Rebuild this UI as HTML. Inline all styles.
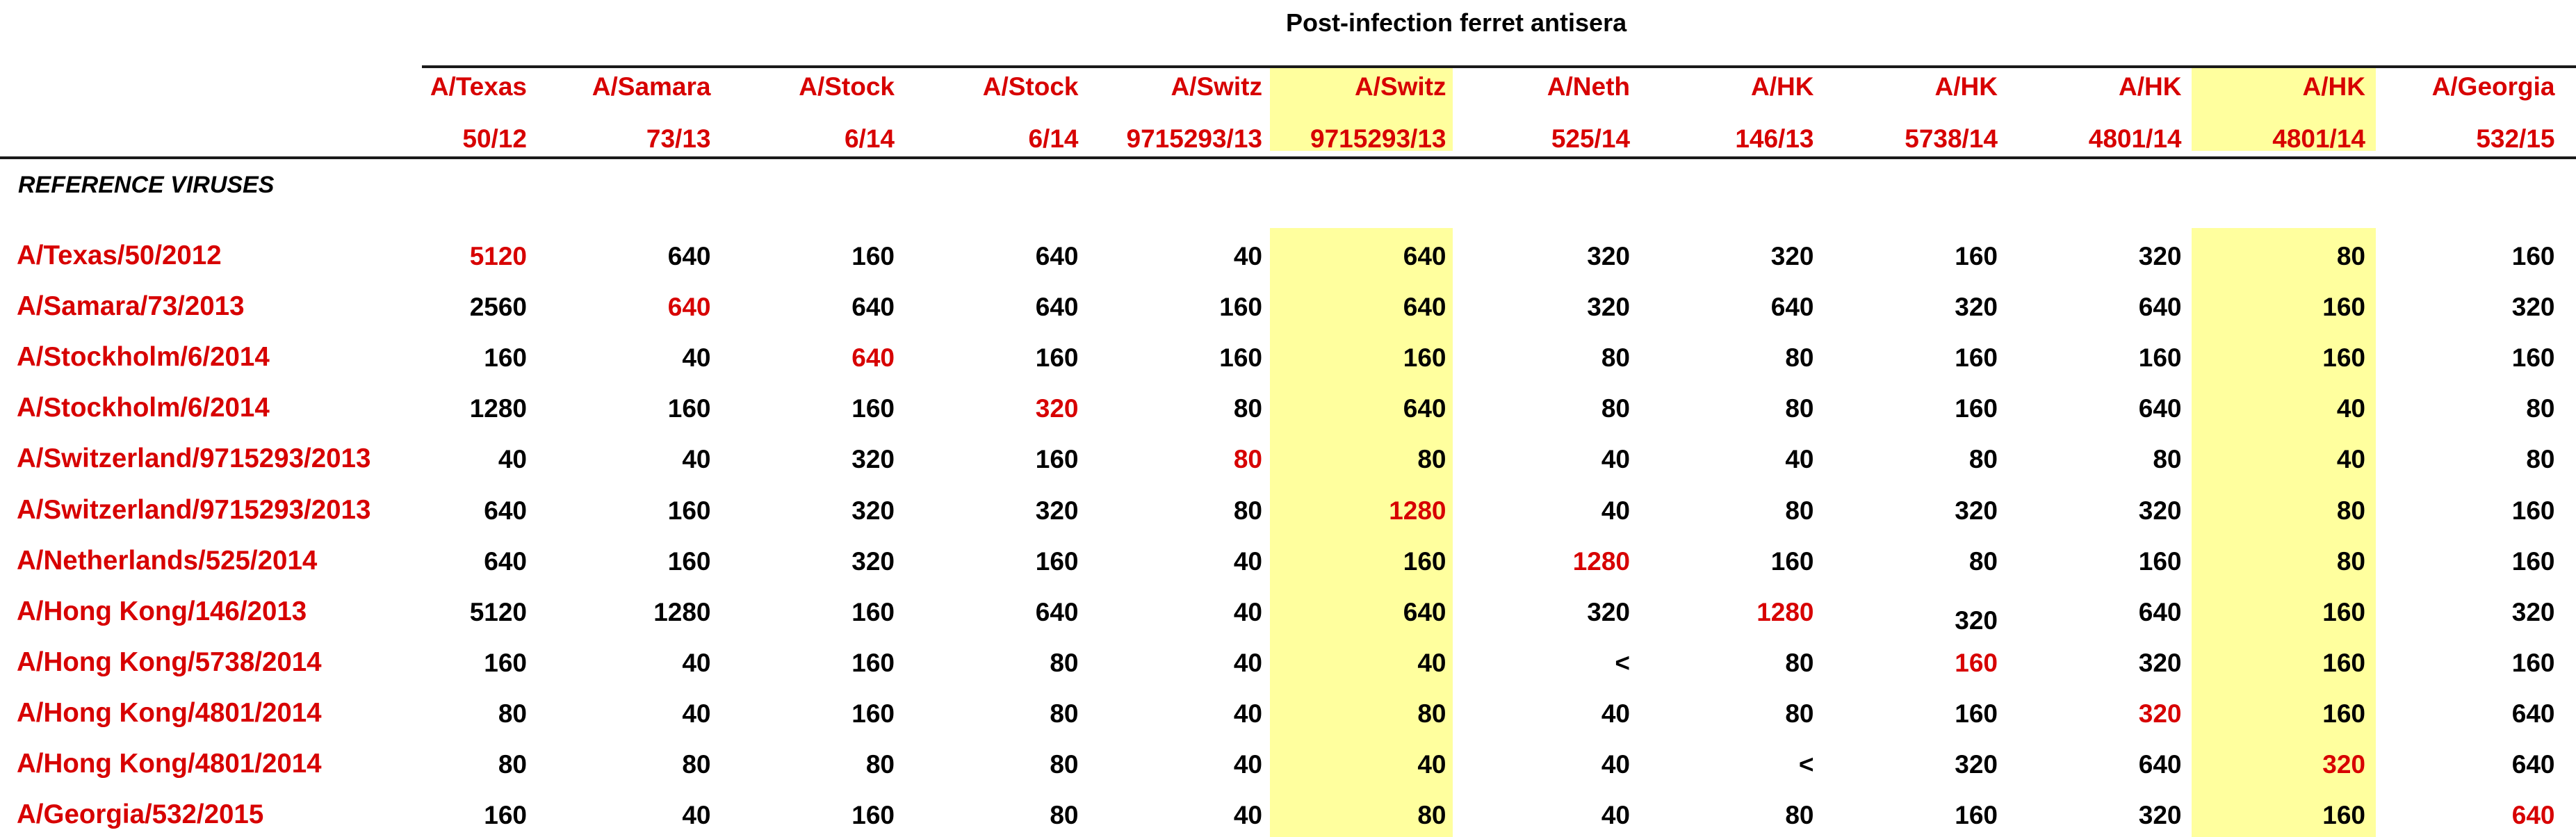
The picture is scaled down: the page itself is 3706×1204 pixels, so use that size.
<!DOCTYPE html>
<html><head><meta charset="utf-8">
<style>
html,body{margin:0;padding:0;background:#fff;}
#wrap{position:relative;width:3706px;height:1204px;overflow:hidden;font-family:"Liberation Sans",Arial,sans-serif;font-weight:bold;}
.t{position:absolute;white-space:nowrap;font-size:37px;line-height:1;}
.r{color:#d70000;}
.k{color:#000;}
.hl{position:absolute;background:#ffff9e;}
.line{position:absolute;height:4px;background:#1a1a1a;}
</style></head>
<body>
<div id="wrap">
  <div class="hl" style="left:1827px;top:97px;width:263px;height:120px"></div>
  <div class="hl" style="left:3153px;top:97px;width:265px;height:120px"></div>
  <div class="hl" style="left:1827px;top:328px;width:263px;height:876px"></div>
  <div class="hl" style="left:3153px;top:328px;width:265px;height:876px"></div>
  <div class="line" style="left:607px;top:94px;width:3099px"></div>
  <div class="line" style="left:0;top:225px;width:3706px"></div>
  <div class="t k" style="left:1850px;top:15px;font-size:36px">Post-infection ferret antisera</div>
  <div class="t k" style="left:26px;top:249px;font-size:34px;font-style:italic">REFERENCE VIRUSES</div>
</div>
<script>
const colTop = ["A/Texas","A/Samara","A/Stock","A/Stock","A/Switz","A/Switz","A/Neth","A/HK","A/HK","A/HK","A/HK","A/Georgia"];
const colBottom = ["50/12","73/13","6/14","6/14","9715293/13","9715293/13","525/14","146/13","5738/14","4801/14","4801/14","532/15"];
const rowLabels = ["A/Texas/50/2012","A/Samara/73/2013","A/Stockholm/6/2014","A/Stockholm/6/2014","A/Switzerland/9715293/2013","A/Switzerland/9715293/2013","A/Netherlands/525/2014","A/Hong Kong/146/2013","A/Hong Kong/5738/2014","A/Hong Kong/4801/2014","A/Hong Kong/4801/2014","A/Georgia/532/2015"];
const titers = [
 ["5120","640","160","640","40","640","320","320","160","320","80","160"],
 ["2560","640","640","640","160","640","320","640","320","640","160","320"],
 ["160","40","640","160","160","160","80","80","160","160","160","160"],
 ["1280","160","160","320","80","640","80","80","160","640","40","80"],
 ["40","40","320","160","80","80","40","40","80","80","40","80"],
 ["640","160","320","320","80","1280","40","80","320","320","80","160"],
 ["640","160","320","160","40","160","1280","160","80","160","80","160"],
 ["5120","1280","160","640","40","640","320","1280","320","640","160","320"],
 ["160","40","160","80","40","40","<","80","160","320","160","160"],
 ["80","40","160","80","40","80","40","80","160","320","160","640"],
 ["80","80","80","80","40","40","40","<","320","640","320","640"],
 ["160","40","160","80","40","80","40","80","160","320","160","640"]
];
const homologous = [0,1,2,3,4,5,6,7,8,9,10,11];

const wrap = document.getElementById('wrap');
const colRight = i => 758 + 264.5*i + (i===11?8:0);
const rowBase = i => 379 + 73.1*i;
function txt(s, cls, right, base, left){
  const d = document.createElement('div');
  d.className = 't ' + cls;
  d.textContent = s;
  if (left !== undefined) d.style.left = left + 'px';
  else d.style.right = (3706 - right) + 'px';
  d.style.top = (base - 29) + 'px';
  wrap.appendChild(d);
  return d;
}
colTop.forEach((s,i)=>{
  const d = txt(s,'r',colRight(i),135);
  
  
  const e = txt(colBottom[i],'r',colRight(i),210);
  
  
});
rowLabels.forEach((s,r)=>{
  const d = txt(s,'r',0,rowBase(r),24);
  d.style.fontSize = '38.5px';
  d.style.top = (rowBase(r) - 30) + 'px';
  
  
  titers[r].forEach((v,c)=>{
    let b = rowBase(r);
    if (r===7 && c===8) b += 12;
    let right = colRight(c);
    const cls = homologous[r]===c ? 'r' : 'k';
    const e = txt(v,cls,right,b);
    
    
  });
});
</script>
</body></html>
